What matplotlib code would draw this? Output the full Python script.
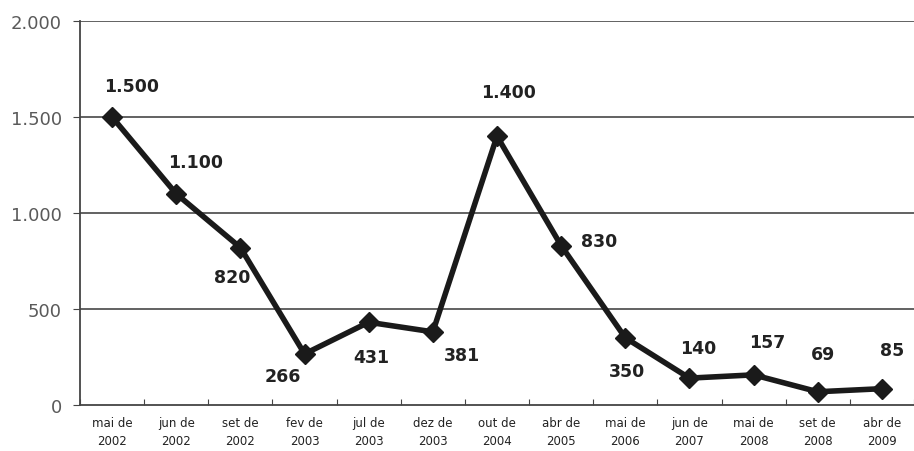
import matplotlib
matplotlib.use("Agg")
import matplotlib.pyplot as plt

categories = ["mai de\n2002", "jun de\n2002", "set de\n2002", "fev de\n2003", "jul de\n2003",
              "dez de\n2003", "out de\n2004", "abr de\n2005", "mai de\n2006", "jun de\n2007",
              "mai de\n2008", "set de\n2008", "abr de\n2009"]
values = [1500, 1100, 820, 266, 431, 381, 1400, 830, 350, 140, 157, 69, 85]
labels = ["1.500", "1.100", "820", "266", "431", "381", "1.400", "830", "350", "140", "157", "69", "85"]
yticks = [0, 500, 1000, 1500, 2000]
ytick_labels = ["0", "500", "1.000", "1.500", "2.000"]

# label offsets in points (dx, dy)
offsets = [(14, 22), (14, 23), (-6, -21), (-16, -16), (2, -25), (21, -17), (8, 32),
           (27, 3), (1, -24), (6, 22), (10, 24), (4, 27), (7, 28)]

fig = plt.figure(figsize=(9.14, 4.52), dpi=100)
ax = fig.add_axes([80/914, 46/452, 834/914, 384/452])
x = list(range(len(values)))
ax.plot(x, values, color="#1a1a1a", lw=4, marker="D", ms=10, zorder=3)
ax.set_xlim(-0.5, 12.38)
ax.set_ylim(0, 2000)
ax.set_yticks(yticks)
ax.set_yticklabels(ytick_labels, color="#5a5a5a", fontsize=13)
ax.set_xticks([i - 0.5 for i in range(14)])
ax.set_xticklabels([])
ax.set_xticks(x, minor=True)
ax.set_xticklabels(categories, minor=True, fontsize=8.5, color="#222222", linespacing=1.5)
ax.tick_params(axis="x", which="minor", length=0, pad=8)
ax.tick_params(axis="x", which="major", length=4, direction="in", color="#444444")
ax.tick_params(axis="y", length=5, direction="out", color="#444444", pad=8)
for y in yticks[1:]:
    ax.axhline(y, color="#555555", lw=1.3, zorder=1)
for s in ["top", "right"]:
    ax.spines[s].set_visible(False)
ax.spines["left"].set_color("#444444")
ax.spines["bottom"].set_color("#444444")
ax.spines["left"].set_linewidth(1.3)
ax.spines["bottom"].set_linewidth(1.3)

for xi, v, lab, (dx, dy) in zip(x, values, labels, offsets):
    ax.annotate(lab, (xi, v), xytext=(dx, dy), textcoords="offset points",
                ha="center", va="center", fontsize=12.5, fontweight="bold", color="#222222")

fig.savefig("out.png", dpi=100)
